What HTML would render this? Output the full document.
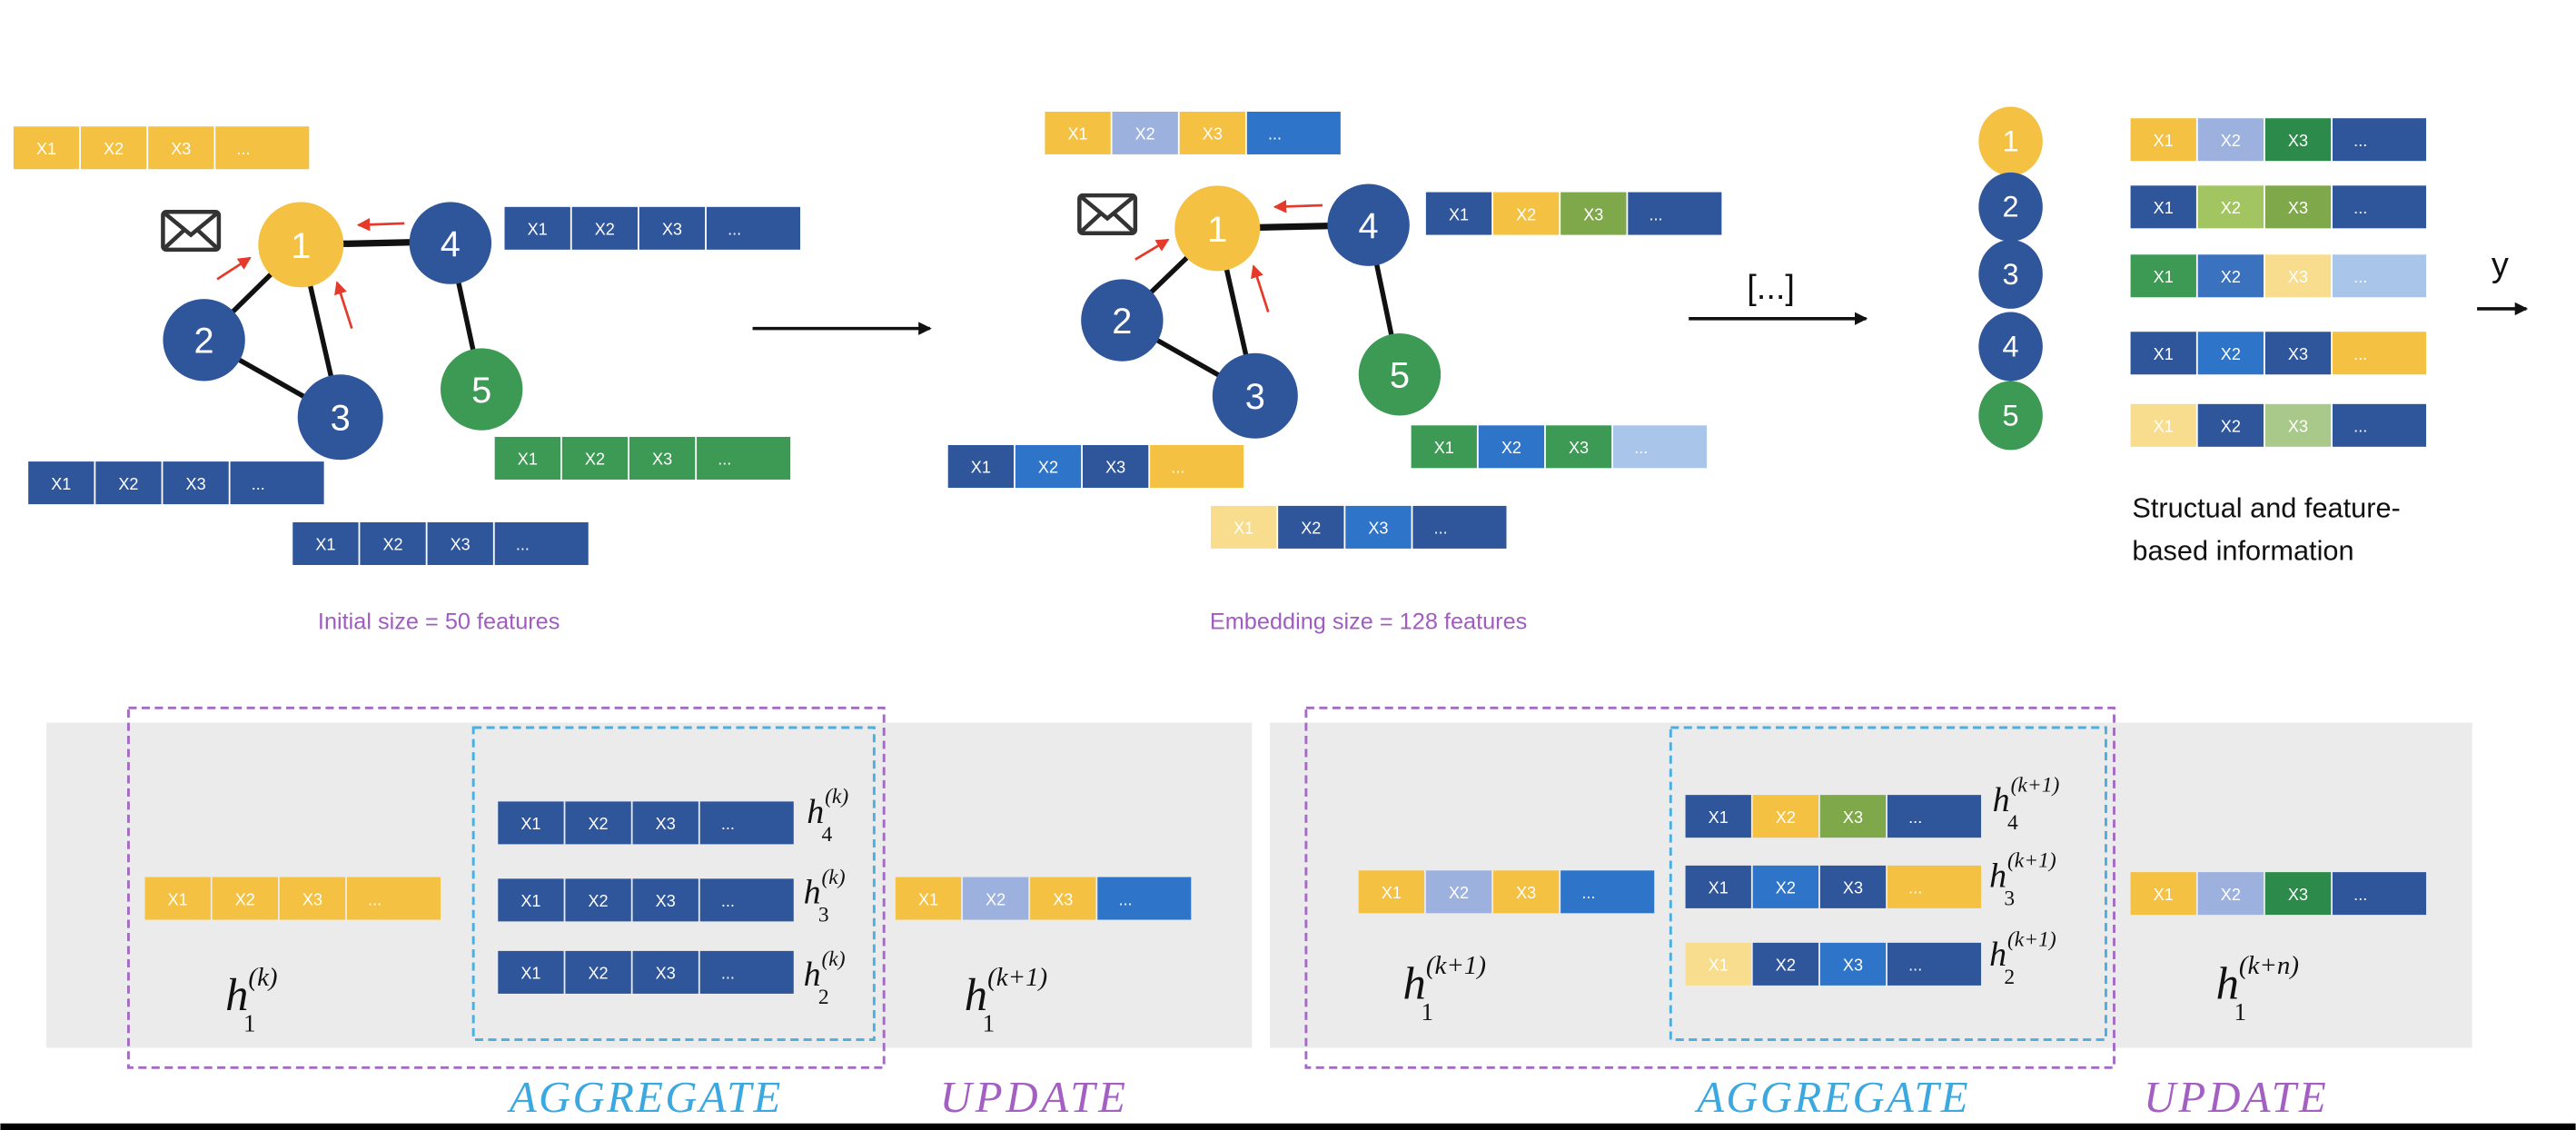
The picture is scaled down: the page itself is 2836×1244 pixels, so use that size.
<!DOCTYPE html>
<html><head><meta charset="utf-8"><style>
html,body{margin:0;padding:0;background:#fff;width:2836px;height:1244px;overflow:hidden}
svg{display:block}
.c{font-family:"Liberation Sans",sans-serif;font-size:10px;fill:#fff;text-anchor:middle}
.n{font-family:"Liberation Sans",sans-serif;font-size:22px;fill:#fff;text-anchor:middle}
.s{font-family:"Liberation Sans",sans-serif;font-size:14px;fill:#a05cc0;text-anchor:middle}
.h{font-family:"Liberation Serif",serif;font-style:italic;fill:#111}
.r{font-family:"Liberation Serif",serif;fill:#111}
.agg{font-family:"Liberation Serif",serif;font-style:italic;font-size:27px;letter-spacing:3px}
</style></head><body>
<svg width="2836" height="1244" viewBox="0 0 1568 688" xmlns="http://www.w3.org/2000/svg">
<defs>
<marker id="ar" markerWidth="8" markerHeight="8" refX="7" refY="4" orient="auto" markerUnits="userSpaceOnUse"><path d="M0,0 L8,4 L0,8z" fill="#111"/></marker>
<marker id="rr" markerWidth="8" markerHeight="8" refX="7" refY="4" orient="auto" markerUnits="userSpaceOnUse"><path d="M0,0 L8,4 L0,8z" fill="#e53a2a"/></marker>
</defs>
<rect width="1568" height="688" fill="#fff"/>

<rect x="28" y="440" width="734" height="198" fill="#ebebeb"/>
<rect x="773" y="440" width="732" height="198" fill="#ebebeb"/>
<rect x="78" y="431" width="460" height="219" fill="none" stroke="#a36bc2" stroke-width="1.6" stroke-dasharray="5,3"/>
<rect x="288" y="443" width="244" height="190" fill="none" stroke="#4aaee0" stroke-width="1.6" stroke-dasharray="5,3"/>
<rect x="795" y="431" width="492" height="219" fill="none" stroke="#a36bc2" stroke-width="1.6" stroke-dasharray="5,3"/>
<rect x="1017" y="443" width="265" height="190" fill="none" stroke="#4aaee0" stroke-width="1.6" stroke-dasharray="5,3"/>
<rect x="0" y="684" width="1568" height="4" fill="#000"/>

<g stroke="#111" stroke-width="3">
<line x1="183" y1="149" x2="274" y2="147" stroke-width="4"/>
<line x1="183" y1="149" x2="124" y2="207"/>
<line x1="183" y1="149" x2="207" y2="254"/>
<line x1="124" y1="207" x2="207" y2="254"/>
<line x1="274" y1="149" x2="293" y2="237"/>
</g>
<circle cx="183" cy="149" r="26" fill="#f4c142"/>
<circle cx="274" cy="148" r="25" fill="#2f559a"/>
<circle cx="124" cy="207" r="25" fill="#2f559a"/>
<circle cx="207" cy="254" r="26" fill="#2f559a"/>
<circle cx="293" cy="237" r="25" fill="#3d9a55"/>
<text class="n" x="183" y="157">1</text><text class="n" x="274" y="156">4</text>
<text class="n" x="124" y="215">2</text><text class="n" x="207" y="262">3</text><text class="n" x="293" y="245">5</text>
<g stroke="#e53a2a" stroke-width="1.5">
<line x1="132" y1="170" x2="152" y2="157" marker-end="url(#rr)"/>
<line x1="214" y1="200" x2="205" y2="172" marker-end="url(#rr)"/>
<line x1="246" y1="136" x2="218" y2="137" marker-end="url(#rr)"/>
</g>
<g fill="none" stroke="#333" stroke-width="2.5"><rect x="99" y="129" width="34" height="23" rx="2"/><path d="M99,129 L116,143 L133,129 M99,152 L112,140 M133,152 L120,140"/></g>

<g stroke="#111" stroke-width="3">
<line x1="741" y1="139" x2="833" y2="137" stroke-width="4"/>
<line x1="741" y1="139" x2="683" y2="195"/>
<line x1="741" y1="139" x2="764" y2="241"/>
<line x1="683" y1="195" x2="764" y2="241"/>
<line x1="833" y1="137" x2="852" y2="228"/>
</g>
<circle cx="741" cy="139" r="26" fill="#f4c142"/>
<circle cx="833" cy="137" r="25" fill="#2f559a"/>
<circle cx="683" cy="195" r="25" fill="#2f559a"/>
<circle cx="764" cy="241" r="26" fill="#2f559a"/>
<circle cx="852" cy="228" r="25" fill="#3d9a55"/>
<text class="n" x="741" y="147">1</text><text class="n" x="833" y="145">4</text>
<text class="n" x="683" y="203">2</text><text class="n" x="764" y="249">3</text><text class="n" x="852" y="236">5</text>
<g stroke="#e53a2a" stroke-width="1.5">
<line x1="691" y1="158" x2="711" y2="146" marker-end="url(#rr)"/>
<line x1="772" y1="190" x2="763" y2="162" marker-end="url(#rr)"/>
<line x1="805" y1="125" x2="776" y2="126" marker-end="url(#rr)"/>
</g>
<g fill="none" stroke="#333" stroke-width="2.5"><rect x="657" y="119" width="34" height="23" rx="2"/><path d="M657,119 L674,133 L691,119 M657,142 L670,130 M691,142 L678,130"/></g>

<line x1="458" y1="200" x2="566" y2="200" stroke="#111" stroke-width="2" marker-end="url(#ar)"/>
<line x1="1028" y1="194" x2="1136" y2="194" stroke="#111" stroke-width="2" marker-end="url(#ar)"/>
<line x1="1508" y1="188" x2="1538" y2="188" stroke="#111" stroke-width="2" marker-end="url(#ar)"/>
<text x="1078" y="182" font-family="Liberation Sans,sans-serif" font-size="21" text-anchor="middle" fill="#111">[...]</text>
<text x="1522" y="168" font-family="Liberation Sans,sans-serif" font-size="21" text-anchor="middle" fill="#111">y</text>

<text class="s" x="267" y="383">Initial size = 50 features</text>
<text class="s" x="833" y="383">Embedding size = 128 features</text>
<text x="1298" y="315" font-family="Liberation Sans,sans-serif" font-size="17" fill="#111">Structual and feature-</text>
<text x="1298" y="341" font-family="Liberation Sans,sans-serif" font-size="17" fill="#111">based information</text>

<ellipse cx="1224" cy="86" rx="19.5" ry="21" fill="#f4c142"/>
<ellipse cx="1224" cy="126" rx="19.5" ry="21" fill="#2f559a"/>
<ellipse cx="1224" cy="167" rx="19.5" ry="21" fill="#2f559a"/>
<ellipse cx="1224" cy="211" rx="19.5" ry="21" fill="#2f559a"/>
<ellipse cx="1224" cy="253" rx="19.5" ry="21" fill="#3d9a55"/>
<text class="n" style="font-size:18px" x="1224" y="92">1</text><text class="n" style="font-size:18px" x="1224" y="132">2</text><text class="n" style="font-size:18px" x="1224" y="173">3</text><text class="n" style="font-size:18px" x="1224" y="217">4</text><text class="n" style="font-size:18px" x="1224" y="259">5</text>

<g transform="translate(8,77)"><rect width="40" height="26" fill="#f4c142"/><rect x="41" width="40" height="26" fill="#f4c142"/><rect x="82" width="40" height="26" fill="#f4c142"/><rect x="123" width="57" height="26" fill="#f4c142"/><text class="c" x="20" y="17">X1</text><text class="c" x="61" y="17">X2</text><text class="c" x="102" y="17">X3</text><text class="c" x="140" y="17">...</text></g>
<g transform="translate(307,126)"><rect width="40" height="26" fill="#2f559a"/><rect x="41" width="40" height="26" fill="#2f559a"/><rect x="82" width="40" height="26" fill="#2f559a"/><rect x="123" width="57" height="26" fill="#2f559a"/><text class="c" x="20" y="17">X1</text><text class="c" x="61" y="17">X2</text><text class="c" x="102" y="17">X3</text><text class="c" x="140" y="17">...</text></g>
<g transform="translate(301,266)"><rect width="40" height="26" fill="#3d9a55"/><rect x="41" width="40" height="26" fill="#3d9a55"/><rect x="82" width="40" height="26" fill="#3d9a55"/><rect x="123" width="57" height="26" fill="#3d9a55"/><text class="c" x="20" y="17">X1</text><text class="c" x="61" y="17">X2</text><text class="c" x="102" y="17">X3</text><text class="c" x="140" y="17">...</text></g>
<g transform="translate(17,281)"><rect width="40" height="26" fill="#2f559a"/><rect x="41" width="40" height="26" fill="#2f559a"/><rect x="82" width="40" height="26" fill="#2f559a"/><rect x="123" width="57" height="26" fill="#2f559a"/><text class="c" x="20" y="17">X1</text><text class="c" x="61" y="17">X2</text><text class="c" x="102" y="17">X3</text><text class="c" x="140" y="17">...</text></g>
<g transform="translate(178,318)"><rect width="40" height="26" fill="#2f559a"/><rect x="41" width="40" height="26" fill="#2f559a"/><rect x="82" width="40" height="26" fill="#2f559a"/><rect x="123" width="57" height="26" fill="#2f559a"/><text class="c" x="20" y="17">X1</text><text class="c" x="61" y="17">X2</text><text class="c" x="102" y="17">X3</text><text class="c" x="140" y="17">...</text></g>

<g transform="translate(636,68)"><rect width="40" height="26" fill="#f4c142"/><rect x="41" width="40" height="26" fill="#9db1de"/><rect x="82" width="40" height="26" fill="#f4c142"/><rect x="123" width="57" height="26" fill="#2e74c9"/><text class="c" x="20" y="17">X1</text><text class="c" x="61" y="17">X2</text><text class="c" x="102" y="17">X3</text><text class="c" x="140" y="17">...</text></g>
<g transform="translate(868,117)"><rect width="40" height="26" fill="#2f559a"/><rect x="41" width="40" height="26" fill="#f4c142"/><rect x="82" width="40" height="26" fill="#7fa84b"/><rect x="123" width="57" height="26" fill="#2f559a"/><text class="c" x="20" y="17">X1</text><text class="c" x="61" y="17">X2</text><text class="c" x="102" y="17">X3</text><text class="c" x="140" y="17">...</text></g>
<g transform="translate(859,259)"><rect width="40" height="26" fill="#3d9a55"/><rect x="41" width="40" height="26" fill="#2e74c9"/><rect x="82" width="40" height="26" fill="#3d9a55"/><rect x="123" width="57" height="26" fill="#a9c6ea"/><text class="c" x="20" y="17">X1</text><text class="c" x="61" y="17">X2</text><text class="c" x="102" y="17">X3</text><text class="c" x="140" y="17">...</text></g>
<g transform="translate(577,271)"><rect width="40" height="26" fill="#2f559a"/><rect x="41" width="40" height="26" fill="#2e74c9"/><rect x="82" width="40" height="26" fill="#2f559a"/><rect x="123" width="57" height="26" fill="#f4c142"/><text class="c" x="20" y="17">X1</text><text class="c" x="61" y="17">X2</text><text class="c" x="102" y="17">X3</text><text class="c" x="140" y="17">...</text></g>
<g transform="translate(737,308)"><rect width="40" height="26" fill="#f8dd8e"/><rect x="41" width="40" height="26" fill="#2f559a"/><rect x="82" width="40" height="26" fill="#2e74c9"/><rect x="123" width="57" height="26" fill="#2f559a"/><text class="c" x="20" y="17">X1</text><text class="c" x="61" y="17">X2</text><text class="c" x="102" y="17">X3</text><text class="c" x="140" y="17">...</text></g>

<g transform="translate(1297,72)"><rect width="40" height="26" fill="#f4c142"/><rect x="41" width="40" height="26" fill="#9db1de"/><rect x="82" width="40" height="26" fill="#2c8a4a"/><rect x="123" width="57" height="26" fill="#2f559a"/><text class="c" x="20" y="17">X1</text><text class="c" x="61" y="17">X2</text><text class="c" x="102" y="17">X3</text><text class="c" x="140" y="17">...</text></g>
<g transform="translate(1297,113)"><rect width="40" height="26" fill="#2f559a"/><rect x="41" width="40" height="26" fill="#a2c561"/><rect x="82" width="40" height="26" fill="#7fa84b"/><rect x="123" width="57" height="26" fill="#2f559a"/><text class="c" x="20" y="17">X1</text><text class="c" x="61" y="17">X2</text><text class="c" x="102" y="17">X3</text><text class="c" x="140" y="17">...</text></g>
<g transform="translate(1297,155)"><rect width="40" height="26" fill="#3d9a55"/><rect x="41" width="40" height="26" fill="#3a72bf"/><rect x="82" width="40" height="26" fill="#f8dd8e"/><rect x="123" width="57" height="26" fill="#a9c6ea"/><text class="c" x="20" y="17">X1</text><text class="c" x="61" y="17">X2</text><text class="c" x="102" y="17">X3</text><text class="c" x="140" y="17">...</text></g>
<g transform="translate(1297,202)"><rect width="40" height="26" fill="#2f559a"/><rect x="41" width="40" height="26" fill="#2e74c9"/><rect x="82" width="40" height="26" fill="#2f559a"/><rect x="123" width="57" height="26" fill="#f4c142"/><text class="c" x="20" y="17">X1</text><text class="c" x="61" y="17">X2</text><text class="c" x="102" y="17">X3</text><text class="c" x="140" y="17">...</text></g>
<g transform="translate(1297,246)"><rect width="40" height="26" fill="#f8dd8e"/><rect x="41" width="40" height="26" fill="#2f559a"/><rect x="82" width="40" height="26" fill="#a9c98a"/><rect x="123" width="57" height="26" fill="#2f559a"/><text class="c" x="20" y="17">X1</text><text class="c" x="61" y="17">X2</text><text class="c" x="102" y="17">X3</text><text class="c" x="140" y="17">...</text></g>

<g transform="translate(88,534)"><rect width="40" height="26" fill="#f4c142"/><rect x="41" width="40" height="26" fill="#f4c142"/><rect x="82" width="40" height="26" fill="#f4c142"/><rect x="123" width="57" height="26" fill="#f4c142"/><text class="c" x="20" y="17">X1</text><text class="c" x="61" y="17">X2</text><text class="c" x="102" y="17">X3</text><text class="c" x="140" y="17">...</text></g>
<g transform="translate(303,488)"><rect width="40" height="26" fill="#2f559a"/><rect x="41" width="40" height="26" fill="#2f559a"/><rect x="82" width="40" height="26" fill="#2f559a"/><rect x="123" width="57" height="26" fill="#2f559a"/><text class="c" x="20" y="17">X1</text><text class="c" x="61" y="17">X2</text><text class="c" x="102" y="17">X3</text><text class="c" x="140" y="17">...</text></g>
<g transform="translate(303,535)"><rect width="40" height="26" fill="#2f559a"/><rect x="41" width="40" height="26" fill="#2f559a"/><rect x="82" width="40" height="26" fill="#2f559a"/><rect x="123" width="57" height="26" fill="#2f559a"/><text class="c" x="20" y="17">X1</text><text class="c" x="61" y="17">X2</text><text class="c" x="102" y="17">X3</text><text class="c" x="140" y="17">...</text></g>
<g transform="translate(303,579)"><rect width="40" height="26" fill="#2f559a"/><rect x="41" width="40" height="26" fill="#2f559a"/><rect x="82" width="40" height="26" fill="#2f559a"/><rect x="123" width="57" height="26" fill="#2f559a"/><text class="c" x="20" y="17">X1</text><text class="c" x="61" y="17">X2</text><text class="c" x="102" y="17">X3</text><text class="c" x="140" y="17">...</text></g>
<g transform="translate(545,534)"><rect width="40" height="26" fill="#f4c142"/><rect x="41" width="40" height="26" fill="#9db1de"/><rect x="82" width="40" height="26" fill="#f4c142"/><rect x="123" width="57" height="26" fill="#2e74c9"/><text class="c" x="20" y="17">X1</text><text class="c" x="61" y="17">X2</text><text class="c" x="102" y="17">X3</text><text class="c" x="140" y="17">...</text></g>

<g transform="translate(827,530)"><rect width="40" height="26" fill="#f4c142"/><rect x="41" width="40" height="26" fill="#9db1de"/><rect x="82" width="40" height="26" fill="#f4c142"/><rect x="123" width="57" height="26" fill="#2e74c9"/><text class="c" x="20" y="17">X1</text><text class="c" x="61" y="17">X2</text><text class="c" x="102" y="17">X3</text><text class="c" x="140" y="17">...</text></g>
<g transform="translate(1026,484)"><rect width="40" height="26" fill="#2f559a"/><rect x="41" width="40" height="26" fill="#f4c142"/><rect x="82" width="40" height="26" fill="#7fa84b"/><rect x="123" width="57" height="26" fill="#2f559a"/><text class="c" x="20" y="17">X1</text><text class="c" x="61" y="17">X2</text><text class="c" x="102" y="17">X3</text><text class="c" x="140" y="17">...</text></g>
<g transform="translate(1026,527)"><rect width="40" height="26" fill="#2f559a"/><rect x="41" width="40" height="26" fill="#2e74c9"/><rect x="82" width="40" height="26" fill="#2f559a"/><rect x="123" width="57" height="26" fill="#f4c142"/><text class="c" x="20" y="17">X1</text><text class="c" x="61" y="17">X2</text><text class="c" x="102" y="17">X3</text><text class="c" x="140" y="17">...</text></g>
<g transform="translate(1026,574)"><rect width="40" height="26" fill="#f8dd8e"/><rect x="41" width="40" height="26" fill="#2f559a"/><rect x="82" width="40" height="26" fill="#2e74c9"/><rect x="123" width="57" height="26" fill="#2f559a"/><text class="c" x="20" y="17">X1</text><text class="c" x="61" y="17">X2</text><text class="c" x="102" y="17">X3</text><text class="c" x="140" y="17">...</text></g>
<g transform="translate(1297,531)"><rect width="40" height="26" fill="#f4c142"/><rect x="41" width="40" height="26" fill="#9db1de"/><rect x="82" width="40" height="26" fill="#2c8a4a"/><rect x="123" width="57" height="26" fill="#2f559a"/><text class="c" x="20" y="17">X1</text><text class="c" x="61" y="17">X2</text><text class="c" x="102" y="17">X3</text><text class="c" x="140" y="17">...</text></g>

<!-- math labels: h, superscript, subscript as separate texts -->
<text class="h" x="137" y="615" font-size="28">h</text><text class="h" x="151" y="600" font-size="16">(k)</text><text class="r" x="148" y="628" font-size="15">1</text>
<text class="h" x="587" y="615" font-size="28">h</text><text class="h" x="601" y="600" font-size="16">(k+1)</text><text class="r" x="598" y="628" font-size="15">1</text>
<text class="h" x="491" y="501" font-size="21">h</text><text class="h" x="502" y="489" font-size="13">(k)</text><text class="r" x="500" y="512" font-size="13">4</text>
<text class="h" x="489" y="550" font-size="21">h</text><text class="h" x="500" y="538" font-size="13">(k)</text><text class="r" x="498" y="561" font-size="13">3</text>
<text class="h" x="489" y="600" font-size="21">h</text><text class="h" x="500" y="588" font-size="13">(k)</text><text class="r" x="498" y="611" font-size="13">2</text>
<text class="h" x="854" y="608" font-size="28">h</text><text class="h" x="868" y="593" font-size="16">(k+1)</text><text class="r" x="865" y="621" font-size="15">1</text>
<text class="h" x="1349" y="608" font-size="28">h</text><text class="h" x="1363" y="593" font-size="16">(k+n)</text><text class="r" x="1360" y="621" font-size="15">1</text>
<text class="h" x="1213" y="494" font-size="21">h</text><text class="h" x="1224" y="482" font-size="13">(k+1)</text><text class="r" x="1222" y="505" font-size="13">4</text>
<text class="h" x="1211" y="540" font-size="21">h</text><text class="h" x="1222" y="528" font-size="13">(k+1)</text><text class="r" x="1220" y="551" font-size="13">3</text>
<text class="h" x="1211" y="588" font-size="21">h</text><text class="h" x="1222" y="576" font-size="13">(k+1)</text><text class="r" x="1220" y="599" font-size="13">2</text>

<text class="agg" x="310" y="677" fill="#3ba8e0" textLength="168">AGGREGATE</text>
<text class="agg" x="572" y="677" fill="#a35fc2" textLength="116">UPDATE</text>
<text class="agg" x="1033" y="677" fill="#3ba8e0" textLength="168">AGGREGATE</text>
<text class="agg" x="1305" y="677" fill="#a35fc2" textLength="114">UPDATE</text>
</svg>
</body></html>
